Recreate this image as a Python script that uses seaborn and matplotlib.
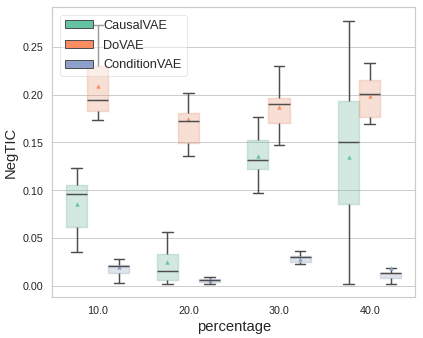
import numpy as np
import pandas as pd
import matplotlib
matplotlib.use("Agg")
import matplotlib.pyplot as plt
from matplotlib.patches import Patch
from matplotlib.colors import to_rgba
import seaborn as sns

# ---- données ----
percentages = ["10.0", "20.0", "30.0", "40.0"]
methods = ["CausalVAE", "DoVAE", "ConditionVAE"]

# (min, q1, médiane, q3, max) par pourcentage
causal_box = [
    [0.0353, 0.0618, 0.0957, 0.1055, 0.1230],
    [0.0018, 0.0060, 0.0157, 0.0332, 0.0566],
    [0.0974, 0.1222, 0.1317, 0.1523, 0.1767],
    [0.0021, 0.0852, 0.1505, 0.1938, 0.2775],
]
dovae_box = [
    [0.1735, 0.1833, 0.1945, 0.2294, 0.2730],
    [0.1358, 0.1498, 0.1722, 0.1806, 0.2017],
    [0.1474, 0.1707, 0.1903, 0.1966, 0.2304],
    [0.1694, 0.1764, 0.2011, 0.2154, 0.2329],
]
condition_box = [
    [0.0028, 0.0136, 0.0210, 0.0217, 0.0280],
    [0.0021, 0.0039, 0.0057, 0.0073, 0.0091],
    [0.0227, 0.0245, 0.0301, 0.0311, 0.0367],
    [0.0018, 0.0078, 0.0130, 0.0136, 0.0189],
]

# moyennes (triangles)
causal_mean = [0.0852, 0.0248, 0.1362, 0.1348]
dovae_mean = [0.2090, 0.1746, 0.1868, 0.1980]
condition_mean = [0.0199, 0.0063, 0.0276, 0.0190]

# ---- tables longues ----
box_data = {"CausalVAE": causal_box, "DoVAE": dovae_box, "ConditionVAE": condition_box}
mean_data = {"CausalVAE": causal_mean, "DoVAE": dovae_mean, "ConditionVAE": condition_mean}

rows = []
for m in methods:
    for p, vals in zip(percentages, box_data[m]):
        for v in vals:
            rows.append({"percentage": p, "method": m, "NegTIC": v})
df = pd.DataFrame(rows)

mean_rows = []
for m in methods:
    for p, v in zip(percentages, mean_data[m]):
        mean_rows.append({"percentage": p, "method": m, "NegTIC": v})
df_mean = pd.DataFrame(mean_rows)

# ---- figure ----
sns.set_theme(style="whitegrid")
plt.rcParams["font.family"] = ["Liberation Sans", "DejaVu Sans"]

palette = sns.color_palette("Set2", 3)
line_color = "#4d4d4d"

fig, ax = plt.subplots(figsize=(6, 4.8), dpi=70.5)
fig.subplots_adjust(left=0.124, right=0.981, top=0.978, bottom=0.122)

sns.boxplot(data=df, x="percentage", y="NegTIC", hue="method",
            order=percentages, hue_order=methods, palette=palette,
            width=0.7, whis=(0, 100), fliersize=0, linecolor=line_color,
            linewidth=1.5, legend=False, ax=ax)

# boîtes transparentes, bord de la même couleur
for patch in ax.patches:
    fc = patch.get_facecolor()
    patch.set_facecolor(to_rgba(fc[:3], 0.3))
    patch.set_edgecolor(to_rgba(fc[:3], 0.3))

sns.pointplot(data=df_mean, x="percentage", y="NegTIC", hue="method",
              order=percentages, hue_order=methods, palette=palette,
              dodge=0.4667, markers="^", linestyles="none", markersize=4.5,
              markeredgewidth=0, errorbar=None, legend=False, ax=ax)

ax.set_ylim(-0.0115, 0.2916)
ax.set_yticks(np.arange(0, 0.26, 0.05))
ax.set_xlabel("percentage", fontsize=15)
ax.set_ylabel("NegTIC", fontsize=15)
ax.tick_params(labelsize=11)

handles = [Patch(facecolor=c, edgecolor=line_color, linewidth=1, label=m)
           for c, m in zip(palette, methods)]
ax.legend(handles=handles, loc="upper left", fontsize=13,
          handlelength=2.2, handleheight=0.6, labelspacing=0.6,
          borderaxespad=0.6, framealpha=0.45)

plt.savefig("out.png", dpi=70.5)
